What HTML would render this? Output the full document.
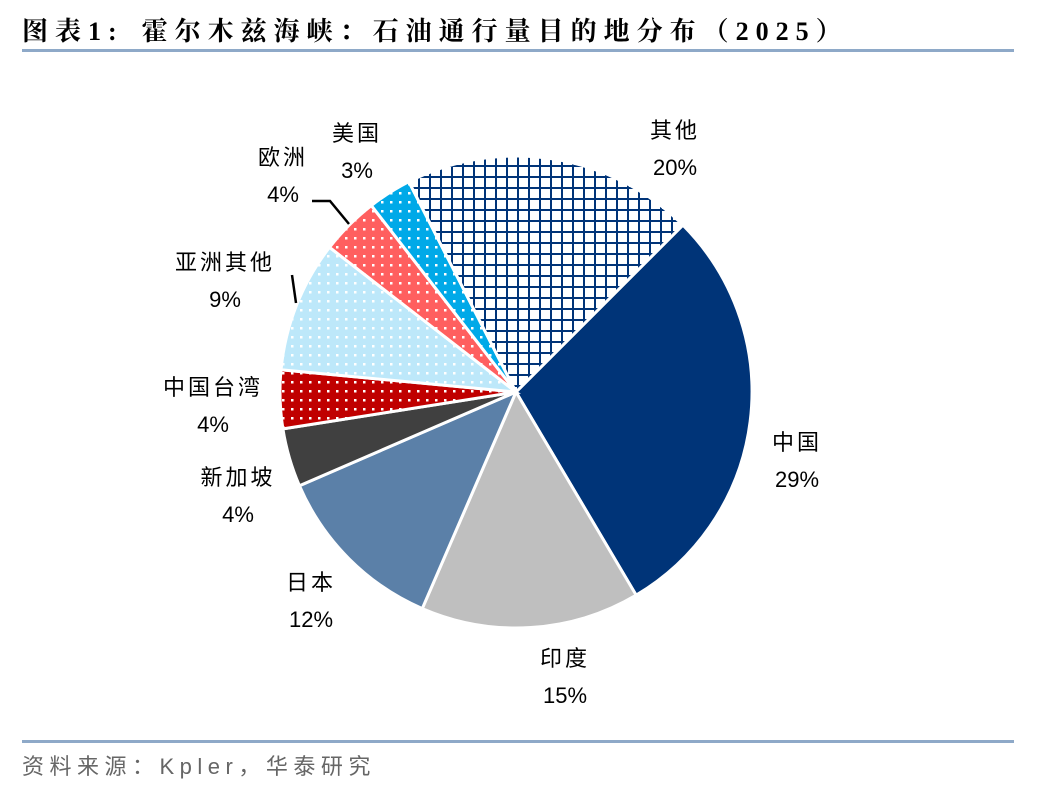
<!DOCTYPE html>
<html><head><meta charset="utf-8"><style>
body{margin:0;background:#fff;width:1048px;height:792px;overflow:hidden}
.t{font-family:"Liberation Sans","Noto Sans CJK SC",sans-serif;font-size:22px;fill:#000}
</style></head><body>
<svg id="c" width="1048" height="792">
<defs>
<pattern id="grid" width="11" height="11" patternUnits="userSpaceOnUse"><rect width="11" height="11" fill="#fff"/><path d="M0 0H11M0 0V11" stroke="#003478" stroke-width="4"/></pattern>
<pattern id="dotRed" width="9" height="9" patternUnits="userSpaceOnUse"><rect width="9" height="9" fill="#C00000"/><rect x="3" y="3" width="2.5" height="2.5" fill="#fff"/></pattern>
<pattern id="dotLt" width="9" height="9" patternUnits="userSpaceOnUse"><rect width="9" height="9" fill="#BDE8FA"/><rect x="3" y="3" width="2.5" height="2.5" fill="#fff"/></pattern>
<pattern id="dotPink" width="9" height="9" patternUnits="userSpaceOnUse"><rect width="9" height="9" fill="#FF5F5F"/><rect x="3" y="3" width="2.5" height="2.5" fill="#fff"/></pattern>
<pattern id="dotBlue" width="9" height="9" patternUnits="userSpaceOnUse"><rect width="9" height="9" fill="#00A9E8"/><rect x="3" y="3" width="2.5" height="2.5" fill="#fff"/></pattern>
</defs>
<text x="22" y="40" style="font-family:'Liberation Serif','Noto Serif CJK SC',serif;font-weight:bold;font-size:26px" letter-spacing="7"><tspan>图表1:</tspan><tspan dx="18">霍尔木兹海峡：石油通行量目的地分布（2025）</tspan></text>
<rect x="22" y="49" width="992" height="3" fill="#8EA9C8"/>
<g id="slices"></g>
<g id="labels"></g>
<path d="M312 201H330L349 224" stroke="#000" stroke-width="2.5" fill="none"/>
<path d="M292 275L296 303" stroke="#000" stroke-width="2.5" fill="none"/>
<rect x="22" y="740" width="992" height="3" fill="#8EA9C8"/>
<text x="22" y="774" letter-spacing="5.5" style="font-family:'Liberation Sans','Noto Sans CJK SC',sans-serif;font-size:22px;fill:#666">资料来源：Kpler，华泰研究</text>
</svg>
<script>
const categories=["中国","印度","日本","新加坡","中国台湾","亚洲其他","欧洲","美国","其他"];
const values=[29,15,12,4,4,9,4,3,20];
const fills=["#003478","#BFBFBF","#5B80A8","#404040","url(#dotRed)","url(#dotLt)","url(#dotPink)","url(#dotBlue)","url(#grid)"];
const labelPos=[[797,442],[565,658],[311,582],[238,477],[213,387],[225,262],[283,157],[357,133],[675,130]];
const cx=516,cy=392,R=236,start=45;
const ns="http://www.w3.org/2000/svg";
const total=values.reduce((a,b)=>a+b,0);
function pt(a,r){const t=(a-90)*Math.PI/180;return [cx+r*Math.cos(t),cy+r*Math.sin(t)];}
let a=start;
const gs=document.getElementById('slices'),gl=document.getElementById('labels');
values.forEach((v,i)=>{
 const sweep=v/total*360,b=a+sweep;
 const p1=pt(a,R),p2=pt(b,R);
 const p=document.createElementNS(ns,'path');
 p.setAttribute('d',`M${cx} ${cy}L${p1[0]} ${p1[1]}A${R} ${R} 0 ${sweep>180?1:0} 1 ${p2[0]} ${p2[1]}Z`);
 p.setAttribute('fill',fills[i]);p.setAttribute('stroke','#fff');p.setAttribute('stroke-width','3');
 
 
 gs.appendChild(p);
 const [lx,ly]=labelPos[i];
 const t1=document.createElementNS(ns,'text');
 t1.setAttribute('class','t');t1.setAttribute('x',lx);t1.setAttribute('y',ly+8);t1.setAttribute('text-anchor','middle');
 t1.setAttribute('letter-spacing','3');t1.textContent=categories[i];
 
 
 gl.appendChild(t1);
 const t2=document.createElementNS(ns,'text');
 t2.setAttribute('class','t');t2.setAttribute('x',lx);t2.setAttribute('y',ly+45);t2.setAttribute('text-anchor','middle');
 t2.textContent=v+'%';
 
 
 gl.appendChild(t2);
 a=b;
});
</script>
</body></html>
